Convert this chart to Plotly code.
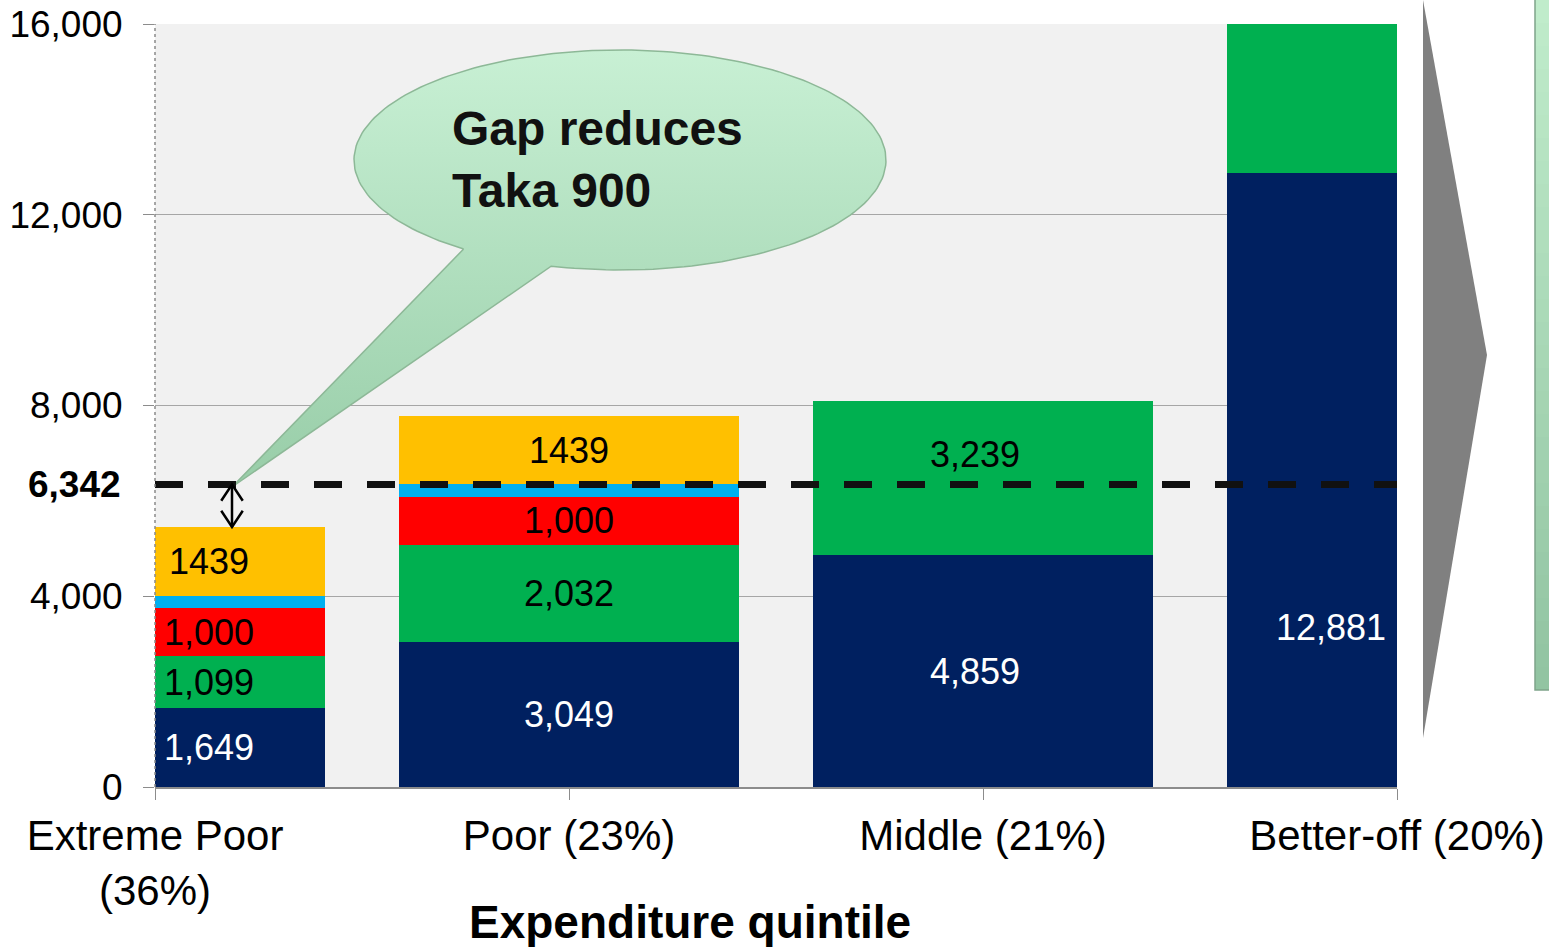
import numpy as np
import plotly.graph_objects as go

# categories (expenditure quintile groups)
categories = ["Extreme Poor<br>(36%)", "Poor (23%)", "Middle (21%)", "Better-off (20%)"]

# stacked segments, bottom to top
base_vals = [1649, 3049, 4859, 12881]
green_vals = [1099, 2032, 3239, 3400]
red_vals = [1000, 1000, None, None]
blue_vals = [265, 265, None, None]
orange_vals = [1439, 1439, None, None]

threshold = 6342
y_ticks = [0, 4000, 8000, 12000, 16000]

xs = list(range(len(categories)))
FONT = "Liberation Sans, Arial, sans-serif"

# plot area in page pixels
W, H = 1549, 947
L, R, T, B = 155, 1397, 24, 787


def paper_x(p):
    return (p - L) / (R - L)


def paper_y(p):
    return (B - p) / (B - T)


def data_x(p):
    return (p - L) / (R - L) * 3


def data_y(p):
    return (B - p) / (B - T) * 16000


fig = go.Figure()

series = [
    ("Base", base_vals, "#002060", "white", True),
    ("Green", green_vals, "#00B050", "black", True),
    ("Red", red_vals, "#FF0000", "black", True),
    ("Blue", blue_vals, "#00B0F0", "black", False),
    ("Orange", orange_vals, "#FFC000", "black", True),
]

for name, vals, color, _, _ in series:
    fig.add_trace(go.Bar(x=xs, y=vals, name=name, marker_color=color,
                         marker_line_width=0, width=0.82, showlegend=False,
                         hoverinfo="skip"))

# segment labels
label_x = [0.13, 1, 1.98, 2.84]
label_frac = {(1, 2): 0.65, (0, 3): 0.26}  # (series, category) -> position in segment
bottoms = [0] * len(categories)
for si, (name, vals, color, tcolor, show) in enumerate(series):
    for ci, v in enumerate(vals):
        if v is None:
            continue
        if show and not (si == 1 and ci == 3):
            frac = label_frac.get((si, ci), 0.5)
            txt = f"{v}" if name == "Orange" else f"{v:,}"
            fig.add_annotation(x=label_x[ci], y=bottoms[ci] + v * frac, text=txt,
                               xanchor="center", yanchor="middle", showarrow=False,
                               font=dict(size=36, color=tcolor, family=FONT))
        bottoms[ci] += v

# speech bubble (ellipse + tail)
cx, cy, rx, ry = 620, 160, 266, 110
th = np.radians(np.linspace(126, 465, 200))
bx = list(cx + rx * np.cos(th)) + [232]
by = list(cy + ry * np.sin(th)) + [487]
bx.append(bx[0])
by.append(by[0])
fig.add_trace(go.Scatter(x=[data_x(p) for p in bx], y=[data_y(p) for p in by],
                         mode="lines", fill="toself",
                         fillgradient=dict(type="vertical",
                                           colorscale=[[0, "#98cda8"], [1, "#c8f0d4"]]),
                         line=dict(color="#8db897", width=1.5),
                         showlegend=False, hoverinfo="skip"))

fig.add_annotation(xref="paper", yref="paper", x=paper_x(450), y=paper_y(159),
                   xanchor="left", yanchor="middle", align="left", showarrow=False,
                   text="<b>Gap reduces<br>Taka 900</b>",
                   font=dict(size=48, color="#111111", family=FONT))

# threshold line
fig.add_shape(type="line", xref="paper", yref="y", x0=0, x1=1, y0=threshold, y1=threshold,
              line=dict(color="#111111", width=7, dash="28px,25px"))
fig.add_annotation(xref="paper", yref="y", x=paper_x(123), y=threshold,
                   xanchor="right", yanchor="middle",
                   text=f"<b>{threshold:,}</b>", showarrow=False,
                   font=dict(size=37, color="black", family=FONT))

# double arrow showing the gap for extreme poor
top0 = sum(v for v in [base_vals[0], green_vals[0], red_vals[0], blue_vals[0], orange_vals[0]])
ax = data_x(232)
hx, hy = 0.026, 340
fig.add_shape(type="line", xref="x", yref="y", x0=ax, x1=ax, y0=top0, y1=threshold,
              line=dict(color="black", width=2.5))
fig.add_shape(type="path", xref="x", yref="y",
              path=f"M{ax - hx},{threshold - hy} L{ax},{threshold} L{ax + hx},{threshold - hy}",
              line=dict(color="black", width=2.5))
fig.add_shape(type="path", xref="x", yref="y",
              path=f"M{ax - hx},{top0 + hy} L{ax},{top0} L{ax + hx},{top0 + hy}",
              line=dict(color="black", width=2.5))

# dotted y axis line
fig.add_shape(type="line", xref="paper", yref="paper", x0=0, x1=0, y0=0, y1=1,
              line=dict(color="#8a8a8a", width=1.5, dash="dot"))

# right-side slide decorations (gray chevron and green panel)
fig.add_shape(type="path", xref="paper", yref="paper",
              path=(f"M{paper_x(1423)},{paper_y(0)} L{paper_x(1487)},{paper_y(355)} "
                    f"L{paper_x(1423)},{paper_y(738)} Z"),
              fillcolor="#808080", line_width=0)
n = 30
c_top, c_bot = np.array([192, 236, 203]), np.array([146, 196, 162])
for i in range(n):
    y0 = 690 * i / n
    y1 = 690 * (i + 1) / n
    c = c_top + (c_bot - c_top) * i / (n - 1)
    fig.add_shape(type="rect", xref="paper", yref="paper",
                  x0=paper_x(1535), x1=paper_x(1560), y0=paper_y(y1), y1=paper_y(y0),
                  fillcolor=f"rgb({int(c[0])},{int(c[1])},{int(c[2])})", line_width=0)
fig.add_shape(type="rect", xref="paper", yref="paper",
              x0=paper_x(1535), x1=paper_x(1560), y0=paper_y(690), y1=paper_y(-5),
              line=dict(color="#7fa48a", width=1.5))

# x axis title
fig.add_annotation(xref="paper", yref="paper", x=paper_x(690), y=paper_y(922),
                   xanchor="center", yanchor="middle",
                   text="<b>Expenditure quintile</b>", showarrow=False,
                   font=dict(size=46, color="black", family=FONT))

fig.update_layout(
    width=W, height=H,
    barmode="stack",
    margin=dict(l=L, r=W - R, t=T, b=H - B),
    plot_bgcolor="#f1f1f1",
    paper_bgcolor="white",
    font=dict(family=FONT, color="black"),
    xaxis=dict(range=[0, 3], tickvals=xs, ticktext=categories, automargin=False,
               showline=True, linecolor="#8c8c8c", linewidth=2,
               ticks="outside", ticklen=11, tickcolor="#8c8c8c", tickwidth=1,
               ticklabeloverflow="allow",
               tickfont=dict(size=42, color="black"), showgrid=False, zeroline=False),
    yaxis=dict(range=[0, 16000], tickvals=y_ticks, tickformat=",", automargin=False,
               showline=False, ticks="outside", ticklen=11, tickcolor="#8c8c8c",
               tickfont=dict(size=37, color="black"), ticklabelstandoff=13,
               ticklabeloverflow="allow",
               showgrid=True, gridcolor="#a6a6a6", gridwidth=1, zeroline=False),
)

# drop the browser's default body margin so the figure fills the window exactly
fig.write_html("out.html", config={"displayModeBar": False},
               post_script="document.body.style.margin='0';")
